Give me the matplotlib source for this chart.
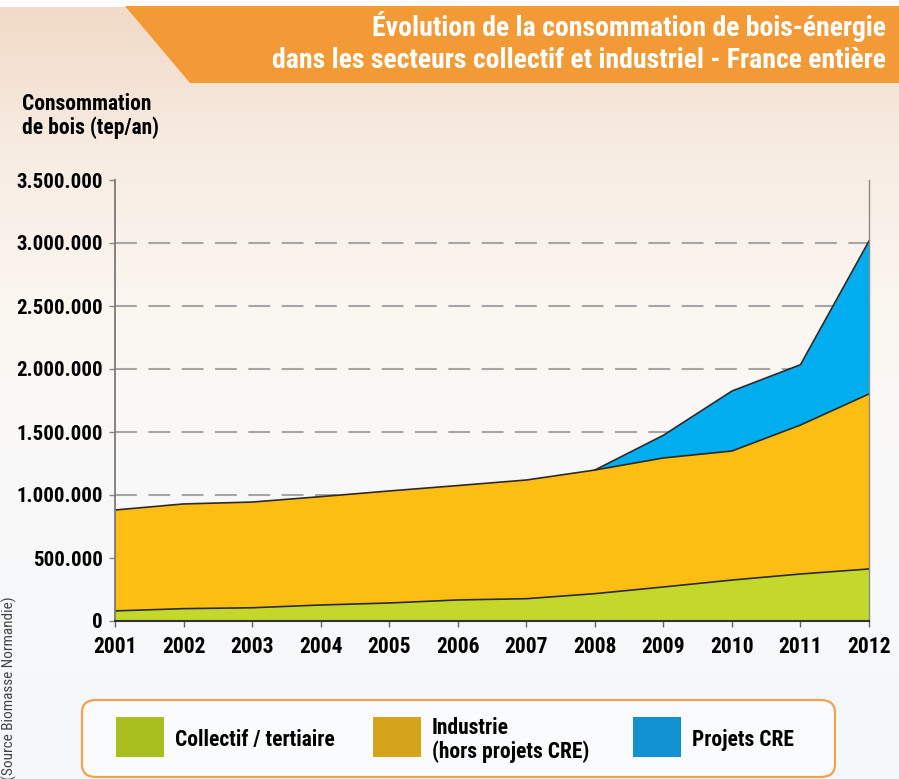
import numpy as np
import matplotlib
matplotlib.use("Agg")
import matplotlib.pyplot as plt
from matplotlib.patches import Polygon, FancyBboxPatch, Rectangle

# données (tep/an)
years = list(range(2001, 2013))
collectif = [80000, 98000, 105000, 127000, 143000, 167000, 177000, 217000,
             270000, 325000, 373000, 413000]
industrie = [801000, 831000, 839000, 860000, 889000, 908000, 942000, 981000,
             1024000, 1024000, 1182000, 1389000]
projets_cre = [0, 0, 0, 0, 0, 0, 0, 0, 180000, 476000, 479000, 1214000]

series_names = ["Collectif / tertiaire", "Industrie\n(hors projets CRE)", "Projets CRE"]
yticks = list(range(0, 3500001, 500000))

title_lines = ["Évolution de la consommation de bois-énergie",
               "dans les secteurs collectif et industriel - France entière"]

GREEN = "#c4d82c"
YELLOW = "#fdbe14"
BLUE = "#00aeef"
SWATCH = ["#a9bf1f", "#d6a41a", "#1291d2"]
ORANGE = "#f29a36"

COND = ["Roboto Condensed", "DejaVu Sans"]

W, H = 899, 779


def fx(px):
    return px / W


def fy(py):
    return 1 - py / H


fig = plt.figure(figsize=(W / 100, H / 100), dpi=100)

# fond dégradé
bg = fig.add_axes([0, 0, 1, 1], zorder=-10)
rows = np.arange(H)
stops = [0, 6, 7, 150, 300, 450, H]
cols = np.array([[255, 255, 255], [255, 255, 255], [241, 218, 199],
                 [247, 236, 226], [251, 246, 240], [250, 249, 248],
                 [244, 248, 251]]) / 255
grad = np.stack([np.interp(rows, stops, cols[:, k]) for k in range(3)], axis=-1)
grad = np.repeat(grad[:, None, :], 2, axis=1)
bg.imshow(grad, extent=[0, 1, 0, 1], aspect="auto")
bg.axis("off")

# bandeau du titre
banner = Polygon([(fx(125), fy(6)), (1, fy(6)), (1, fy(83)), (fx(190), fy(83))],
                 closed=True, transform=fig.transFigure, facecolor=ORANGE,
                 edgecolor="none", zorder=1)
fig.patches.append(banner)
fig.text(fx(886), fy(26), title_lines[0], ha="right", va="center", color="white",
         fontsize=20, fontweight="bold", family=COND)
fig.text(fx(886), fy(60), title_lines[1], ha="right", va="center", color="white",
         fontsize=20, fontweight="bold", family=COND)

fig.text(fx(22), fy(116), "Consommation\nde bois (tep/an)", ha="left", va="center",
         fontsize=15.5, fontweight="bold", family=COND, linespacing=1.05)

# graphique
ax = fig.add_axes([fx(115), fy(621), fx(869) - fx(115), fy(180) - fy(621)])
ax.set_facecolor("none")
for v in yticks[1:-1]:
    ax.axhline(v, color="#a6a6a6", lw=1.5, ls=(0, (10.5, 5.5)), zorder=0.5)

ax.stackplot(years, collectif, industrie, projets_cre,
             colors=[GREEN, YELLOW, BLUE], linewidth=0, zorder=2)
c1 = np.array(collectif)
c2 = c1 + np.array(industrie)
c3 = c2 + np.array(projets_cre)
ax.plot(years, c1, color="#2b2b2b", lw=1.2, zorder=3)
ax.plot(years, c2, color="#2b2b2b", lw=1.2, zorder=3)
ax.plot(years[7:], c3[7:], color="#2b2b2b", lw=1.2, zorder=3)

ax.set_xlim(2001, 2012)
ax.set_ylim(0, 3500000)
ax.set_xticks(years)
ax.set_xticklabels([str(y) for y in years], fontsize=15.5, fontweight="bold",
                   family=COND)
ax.set_yticks(yticks)
ax.set_yticklabels([f"{v:,}".replace(",", ".") for v in yticks], fontsize=15,
                   fontweight="bold", family=COND)
ax.tick_params(axis="y", length=4, width=1, color="#888888", pad=5)
ax.tick_params(axis="x", length=4, width=1, color="#666666", pad=7)

ax.spines["top"].set_visible(False)
ax.spines["left"].set_color("#7a7a7a")
ax.spines["left"].set_linewidth(1.3)
ax.spines["right"].set_color("#8a8a8a")
ax.spines["right"].set_linewidth(1.0)
ax.spines["bottom"].set_color("#333333")
ax.spines["bottom"].set_linewidth(1.5)
for s in ax.spines.values():
    s.set_zorder(4)

# source
fig.text(fx(9), fy(688), "(Source Biomasse Normandie)", rotation=90, ha="center",
         va="center", fontsize=11, family=COND, color="#444444")

# légende
box = FancyBboxPatch((fx(82), fy(777)), fx(835) - fx(82), (777 - 700) / H,
                     boxstyle="round,pad=0,rounding_size=0.016",
                     transform=fig.transFigure, facecolor=(1, 1, 1, 0.55),
                     edgecolor="#f0a24c", lw=1.6, zorder=2)
fig.patches.append(box)
swatch_x = [116, 373, 633]
label_x = [175, 432, 692]
for sx, lx, col, name in zip(swatch_x, label_x, SWATCH, series_names):
    fig.patches.append(Rectangle((fx(sx), fy(757)), 48 / W, 40 / H,
                                 transform=fig.transFigure, facecolor=col,
                                 edgecolor="none", zorder=3))
    fig.text(fx(lx), fy(740), name, ha="left", va="center", fontsize=15.5,
             fontweight="bold", family=COND, linespacing=1.05, zorder=4)

fig.savefig("out.png", dpi=100)
